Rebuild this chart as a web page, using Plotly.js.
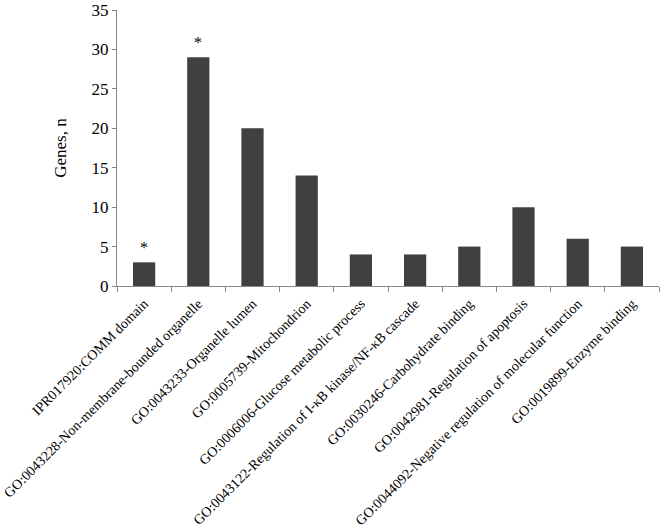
<!DOCTYPE html>
<html>
<head>
<meta charset="utf-8">
<script src="https://cdn.plot.ly/plotly-3.0.1.min.js"></script>
<style>html,body{margin:0;padding:0;background:#fff;}#chart{width:660px;height:529px;}</style>
</head>
<body>
<div id="chart"></div>
<script>
const categories = [
  "IPR017920:COMM domain",
  "GO:0043228-Non-membrane-bounded organelle",
  "GO:0043233-Organelle lumen",
  "GO:0005739-Mitochondrion",
  "GO:0006006-Glucose metabolic process",
  "GO:0043122-Regulation of I-κB kinase/NF-κB cascade",
  "GO:0030246-Carbohydrate binding",
  "GO:0042981-Regulation of apoptosis",
  "GO:0044092-Negative regulation of molecular function",
  "GO:0019899-Enzyme binding"
];
const genes = [3, 29, 20, 14, 4, 4, 5, 10, 6, 5];
const significance = ["*", "*", "", "", "", "", "", "", "", ""];
const yTicks = [0, 5, 10, 15, 20, 25, 30, 35];

const font = "Liberation Serif, Times New Roman, serif";

const annotations = categories.map((c, i) => significance[i] ? {
  x: c, y: genes[i], xref: "x", yref: "y", text: significance[i],
  showarrow: false, yanchor: "bottom", yshift: 4,
  font: {family: font, size: 16, color: "#000"}
} : null).filter(a => a);

const trace = {
  type: "bar", x: categories, y: genes,
  marker: {color: "#404040"}, hoverinfo: "x+y"
};

const layout = {
  width: 660, height: 529,
  margin: {l: 117, r: 1, t: 10, b: 243},
  paper_bgcolor: "#fff", plot_bgcolor: "#fff",
  bargap: 0.59,
  showlegend: false,
  font: {family: font, color: "#000"},
  xaxis: {
    type: "category", tickangle: -45, tickson: "boundaries",
    ticks: "outside", ticklen: 5, tickcolor: "#888", tickwidth: 1,
    showline: true, linecolor: "#888", linewidth: 1,
    showgrid: false, zeroline: false, automargin: false,
    ticklabeloverflow: "allow", ticklabelstandoff: 3,
    tickfont: {family: font, size: 14, color: "#000"}
  },
  yaxis: {
    range: [0, 35], tickvals: yTicks, ticktext: yTicks.map(String),
    ticks: "outside", ticklen: 4, tickcolor: "#888",
    showline: true, linecolor: "#888", linewidth: 1,
    showgrid: false, zeroline: false, automargin: false,
    ticklabeloverflow: "allow",
    tickfont: {family: font, size: 17, color: "#000"},
    title: {text: "Genes, n", font: {family: font, size: 17, color: "#000"}, standoff: 20}
  },
  annotations: annotations
};

Plotly.newPlot("chart", [trace], layout, {displayModeBar: false, staticPlot: true});
</script>
</body>
</html>
